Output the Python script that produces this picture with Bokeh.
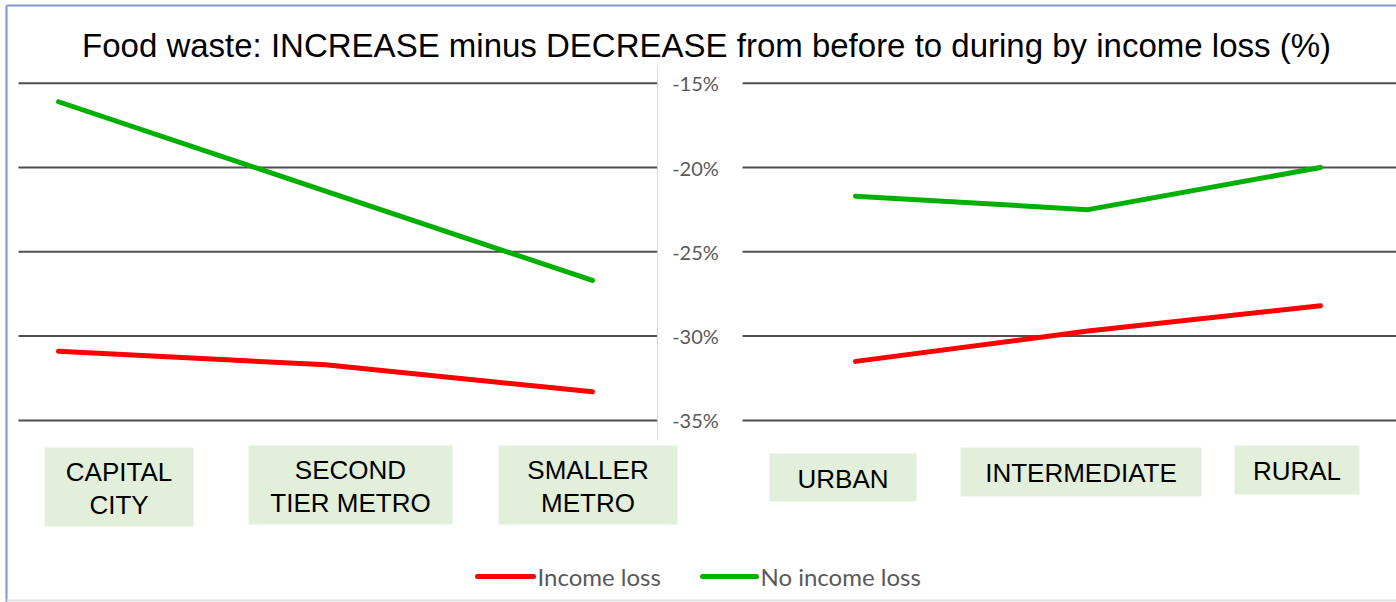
from bokeh.plotting import figure
from bokeh.models import Range1d, ColumnDataSource
from bokeh.core.properties import value
from bokeh.embed import file_html
from bokeh.resources import INLINE

# ---- data -------------------------------------------------------------
title_text = "Food waste: INCREASE minus DECREASE from before to during by income loss (%)"

metro_cats = ["CAPITAL\nCITY", "SECOND\nTIER METRO", "SMALLER\nMETRO"]
metro_income_loss = [-30.9, -31.7, -33.3]
metro_no_income_loss = [-16.1, -21.4, -26.7]

area_cats = ["URBAN", "INTERMEDIATE", "RURAL"]
area_income_loss = [-31.5, -29.7, -28.2]
area_no_income_loss = [-21.7, -22.5, -20.0]

y_ticks = [-15, -20, -25, -30, -35]
series_names = ["Income loss", "No income loss"]

# ---- styling ------------------------------------------------------------
W, H = 1396, 602
RED = "#FF0000"
GREEN = "#00B000"
GRID = "#505050"
TICK_TXT = "#595959"
BOX_FILL = "#E2EFDA"

# canvas geometry (pixels)
METRO_X0, METRO_STEP = 58.0, 267.0
AREA_X0, AREA_STEP = 855.0, 232.5
Y_TOP_PX, Y_TOP_VAL, PX_PER_PCT = 82.7, -15.0, 16.86

p = figure(
    width=W, height=H, output_backend="svg", toolbar_location=None,
    x_axis_location=None, y_axis_location=None, min_border=0,
    outline_line_color=None,
    x_range=Range1d(-METRO_X0 / METRO_STEP, (W - METRO_X0) / METRO_STEP),
    y_range=Range1d(Y_TOP_VAL - (H - Y_TOP_PX) / PX_PER_PCT,
                    Y_TOP_VAL + Y_TOP_PX / PX_PER_PCT),
)
p.grid.visible = False
p.extra_x_ranges = {
    "px": Range1d(0, W),
    "area": Range1d(-AREA_X0 / AREA_STEP, (W - AREA_X0) / AREA_STEP),
}
p.extra_y_ranges = {"px": Range1d(H, 0)}

# frame border
p.segment(x0=[6], y0=[5], x1=[6], y1=[H], line_color="#7F97C6", line_width=2,
          x_range_name="px", y_range_name="px")
p.segment(x0=[6], y0=[5], x1=[W], y1=[5], line_color="#7F97C6", line_width=2,
          x_range_name="px", y_range_name="px")
p.segment(x0=[6], y0=[H - 2], x1=[W], y1=[H - 2], line_color="#E0E0E0", line_width=2,
          x_range_name="px", y_range_name="px")

# title
p.text(x=[706], y=[45], text=[title_text], x_range_name="px", y_range_name="px",
       text_font=value("Liberation Sans"), text_font_size="33px",
       text_color="#000000", text_align="center", text_baseline="middle")

# horizontal gridlines, split around the shared value axis
grid_src = ColumnDataSource(dict(y=y_ticks))
p.segment(x0=18, x1=657, y0="y", y1="y", source=grid_src, x_range_name="px",
          line_color=GRID, line_width=2)
p.segment(x0=742, x1=W, y0="y", y1="y", source=grid_src, x_range_name="px",
          line_color=GRID, line_width=2)

# central value axis line and tick labels
p.segment(x0=[657], y0=[65], x1=[657], y1=[440], x_range_name="px", y_range_name="px",
          line_color="#D9D9D9", line_width=1)
tick_src = ColumnDataSource(dict(y=y_ticks, label=[f"{t}%" for t in y_ticks]))
p.text(x=695, y="y", text="label", source=tick_src, x_range_name="px",
       text_font=value("Lato"), text_font_size="20px", text_color=TICK_TXT,
       text_align="center", text_baseline="middle")

# series lines
mx = list(range(len(metro_cats)))
ax = list(range(len(area_cats)))
p.line(mx, metro_no_income_loss, line_color=GREEN, line_width=5, line_cap="round")
p.line(mx, metro_income_loss, line_color=RED, line_width=5, line_cap="round")
p.line(ax, area_no_income_loss, line_color=GREEN, line_width=5, line_cap="round",
       x_range_name="area")
p.line(ax, area_income_loss, line_color=RED, line_width=5, line_cap="round",
       x_range_name="area")

# category label boxes (left, right, top, bottom in pixels)
boxes = [
    (44, 193, 447, 526),
    (248, 452, 445, 524),
    (498, 677, 445, 524),
    (769, 916, 453, 501),
    (960, 1201, 447, 496),
    (1234, 1359, 445, 494),
]
p.quad(left=[b[0] for b in boxes], right=[b[1] for b in boxes],
       top=[b[2] for b in boxes], bottom=[b[3] for b in boxes],
       fill_color=BOX_FILL, line_color=None, x_range_name="px", y_range_name="px")
all_cats = metro_cats + area_cats
p.text(x=[(b[0] + b[1]) / 2 for b in boxes],
       y=[(b[2] + b[3]) / 2 + 1 for b in boxes],
       text=all_cats, x_range_name="px", y_range_name="px",
       text_font=value("Liberation Sans"), text_font_size="26px",
       text_color="#000000", text_align="center", text_baseline="middle",
       text_line_height=1.1)

# legend
p.segment(x0=[477, 702], y0=[576, 576], x1=[533, 756], y1=[576, 576],
          line_color=[RED, GREEN], line_width=5, line_cap="round",
          x_range_name="px", y_range_name="px")
p.text(x=[537, 760], y=[576, 576], text=series_names, x_range_name="px", y_range_name="px",
       text_font=value("Lato"), text_font_size="24px", text_color=TICK_TXT,
       text_align="left", text_baseline="middle")

open("out.html", "w").write(file_html(p, INLINE))
